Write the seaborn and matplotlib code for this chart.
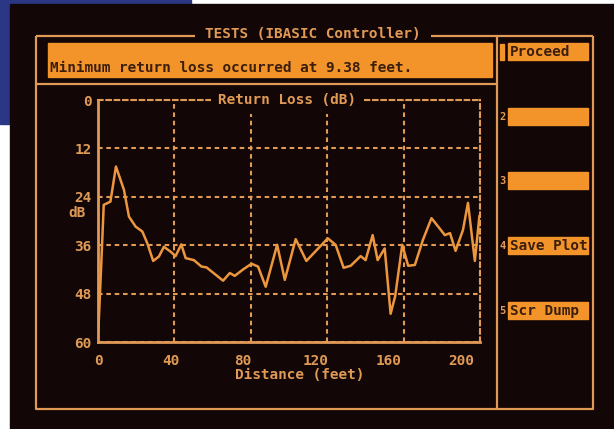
import matplotlib
matplotlib.use("Agg")
import matplotlib.pyplot as plt
import seaborn as sns
import pandas as pd
from matplotlib.patches import Rectangle
from matplotlib.transforms import ScaledTranslation

distance_ft = [0.2, 1.5, 3.0, 6.5, 9.4, 13.6, 16.2, 19.7, 23.2, 25.8, 28.9, 31.9,
               34.5, 38.0, 40.6, 43.6, 45.9, 50.2, 54.2, 56.8, 65.5, 69.0, 71.6,
               76.0, 80.4, 83.8, 87.8, 93.8, 97.8, 103.5, 109.1, 120.3, 124.4,
               128.6, 132.3, 137.5, 140.1, 143.8, 146.4, 150.1, 153.2, 155.6,
               159.3, 162.4, 165.9, 170.1, 174.6, 178.8, 181.6, 184.3, 187.2,
               191.1, 193.7, 197.3, 199.7]
return_loss_db = [57.0, 43.0, 26.0, 25.2, 16.5, 22.3, 28.9, 31.4, 32.6, 35.5, 39.9,
                  38.8, 36.4, 37.6, 38.7, 35.8, 39.2, 39.7, 41.3, 41.5, 44.8, 42.9,
                  43.6, 42.0, 40.6, 41.3, 46.3, 35.9, 44.6, 34.5, 39.9, 34.3, 35.9,
                  41.6, 41.1, 38.7, 39.7, 33.5, 39.7, 36.8, 53.0, 48.6, 35.9, 41.1,
                  40.9, 34.7, 29.3, 31.8, 33.5, 33.0, 37.4, 32.2, 25.5, 39.9, 28.7]
x_ticks = [0, 40, 80, 120, 160, 200]
y_ticks = [0, 12, 24, 36, 48, 60]
softkeys = ["Proceed", "", "", "Save Plot", "Scr Dump"]
message = "Minimum return loss occurred at 9.38 feet."

SCREEN = "#120606"
BLUE = "#2b3784"
FRAME = "#e09a55"
LINE = "#ec963e"
FILL = "#f3942a"
DARK = "#3b1e0c"
FS = 10.4

sns.set_style("dark")
plt.rcParams["font.family"] = ["DejaVu Sans Mono"]
plt.rcParams["font.weight"] = "bold"
plt.rcParams["axes.labelweight"] = "bold"

fig = plt.figure(figsize=(6.14, 4.29), dpi=100, facecolor="white")

# fundo: moldura da tela em coordenadas de pixel
bg = fig.add_axes([0, 0, 1, 1])
bg.set_xlim(0, 614)
bg.set_ylim(429, 0)
bg.axis("off")
bg.add_patch(Rectangle((0, 0), 191, 124, color=BLUE))
bg.add_patch(Rectangle((10, 4), 604, 425, color=SCREEN))

kw = dict(color=FRAME, lw=1.6, solid_capstyle="butt")
bg.plot([36, 195], [36, 36], **kw)
bg.plot([431, 593], [36, 36], **kw)
bg.plot([36, 36, 593, 593], [36, 409, 409, 36], **kw)
bg.plot([497, 497], [36, 409], **kw)
bg.plot([36, 497], [84, 84], **kw)
bg.text(313, 34, "TESTS (IBASIC Controller)", ha="center", va="center",
        color=FRAME, fontsize=FS, weight="bold")

bg.add_patch(Rectangle((48, 43), 444, 34, color=FILL))
bg.text(50, 68, message, ha="left", va="center", color=DARK, fontsize=FS)

key_tops = [43, 108, 172, 237, 302]
for i, (name, top) in enumerate(zip(softkeys, key_tops)):
    bg.add_patch(Rectangle((508, top), 80, 17, color=FILL))
    bg.text(510, top + 8.5, name, ha="left", va="center", color=DARK, fontsize=FS)
    if i == 0:
        bg.add_patch(Rectangle((500, top + 1), 4, 16, color=FILL))
    else:
        bg.text(502.5, top + 9, str(i + 1), ha="center", va="center",
                color=FRAME, fontsize=7.5)

# grafico de perda de retorno
ax = fig.add_axes([98 / 614, 87 / 429, 382 / 614, 242 / 429])
ax.set_facecolor("none")
df = pd.DataFrame({"dist": distance_ft, "loss": return_loss_db})
sns.lineplot(data=df, x="dist", y="loss", ax=ax, color=LINE, lw=1.8, sort=False)

ax.set_xlim(0, 200)
ax.set_ylim(60, 0)
ax.set_xticks(x_ticks)
ax.set_yticks(y_ticks)
ax.set_xticklabels([str(v) for v in x_ticks])
ax.set_yticklabels([str(v) for v in y_ticks])
ax.tick_params(axis="both", direction="inout", length=7, width=1.5,
               colors=FRAME, labelsize=FS)
ax.tick_params(axis="y", pad=1)
ax.tick_params(axis="x", pad=5)
for v, lab in zip(x_ticks, ax.get_xticklabels()):
    dx = -0.05 * v * 1.91 / 100
    lab.set_transform(lab.get_transform() + ScaledTranslation(dx, 0, fig.dpi_scale_trans))

ax.xaxis.grid(True, color=FRAME, lw=1.5, linestyle=(0, (2.2, 1.8)))
ax.yaxis.grid(True, color=FRAME, lw=1.5, linestyle=(0, (2.2, 1.8)))
for s in ["left", "bottom"]:
    ax.spines[s].set_color(FRAME)
    ax.spines[s].set_linewidth(2)
for s in ["top", "right"]:
    ax.spines[s].set_color(FRAME)
    ax.spines[s].set_linewidth(1.5)
    ax.spines[s].set_linestyle((0, (2.2, 1.8)))

ax.text(0.496, 1.0, "Return Loss (dB)", transform=ax.transAxes, ha="center",
        va="center", color=FRAME, fontsize=FS, zorder=5, clip_on=False,
        bbox=dict(boxstyle="square,pad=0.5", fc=SCREEN, ec="none"))

ax.set_xlabel("Distance (feet)", color=FRAME, fontsize=FS, weight="bold")
ax.xaxis.label.set_va("center")
ax.xaxis.set_label_coords(0.529, -0.136)
ax.set_ylabel("dB", color=FRAME, fontsize=FS, rotation=0, weight="bold")
ax.yaxis.label.set_va("center")
ax.yaxis.label.set_ha("center")
ax.yaxis.set_label_coords(-0.055, 0.533)

fig.savefig("out.png", dpi=100, facecolor="white")
